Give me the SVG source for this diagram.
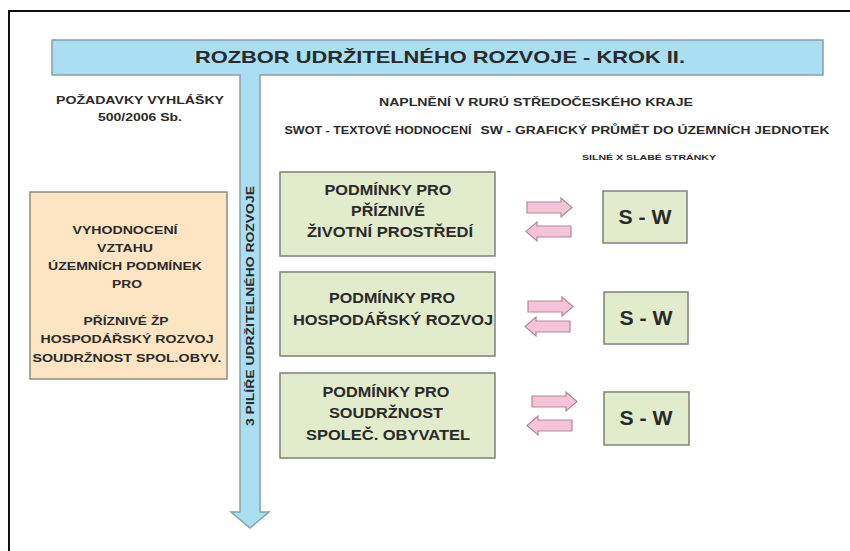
<svg xmlns="http://www.w3.org/2000/svg" width="850" height="551" viewBox="0 0 850 551">
<defs>
<style>
text{font-family:"Liberation Sans",Arial,sans-serif;font-weight:bold;fill:#2a2a2a;text-anchor:middle}
.hdr{font-size:11px}
.small{font-size:7px}
.orange{fill:#fde5c3;stroke:#8c8c84;stroke-width:1.5}
.green{fill:#e2ebcc;stroke:#7e8278;stroke-width:1.5}
.ot{font-size:11.5px}
.gt{font-size:15px}
.sw{font-size:20px}
.arrow{fill:#f6c4d8;stroke:#b08898;stroke-width:1.2}
</style>
<path id="ra" d="M0,4 H34 V0 L45,9.5 L34,19 V15 H0 Z"/>
<path id="la" d="M45,4 H11 V0 L0,9.5 L11,19 V15 H45 Z"/>
</defs>
<rect x="0" y="0" width="850" height="551" fill="#ffffff"/>
<path d="M9,551 V11 H850" fill="none" stroke="#111" stroke-width="2"/>

<g id="title-bar">
<path d="M52,40 H823 V75 H260 V512 H269 L250,528 L231,512 H240 V75 H52 Z" fill="#a9def3" stroke="#8a9ea6" stroke-width="1.5"/>
<text x="440" y="63" font-size="17" textLength="490" lengthAdjust="spacingAndGlyphs">ROZBOR UDRŽITELNÉHO ROZVOJE - KROK II.</text>
<text transform="translate(254,306) rotate(-90)" font-size="11" textLength="240" lengthAdjust="spacingAndGlyphs">3 PILÍŘE UDRŽITELNÉHO ROZVOJE</text>
</g>

<g id="headers">
<text class="hdr" x="140" y="104" textLength="168" lengthAdjust="spacingAndGlyphs">POŽADAVKY VYHLÁŠKY</text>
<text class="hdr" x="140" y="121" textLength="84" lengthAdjust="spacingAndGlyphs">500/2006 Sb.</text>
<text class="hdr" x="536" y="106" textLength="314" lengthAdjust="spacingAndGlyphs">NAPLNĚNÍ V RURÚ STŘEDOČESKÉHO KRAJE</text>
<text class="hdr" x="378" y="134" textLength="187" lengthAdjust="spacingAndGlyphs">SWOT - TEXTOVÉ HODNOCENÍ</text>
<text class="hdr" x="655" y="134" textLength="349" lengthAdjust="spacingAndGlyphs">SW - GRAFICKÝ PRŮMĚT DO ÚZEMNÍCH JEDNOTEK</text>
<text class="small" x="649" y="160" textLength="134" lengthAdjust="spacingAndGlyphs">SILNÉ X SLABÉ STRÁNKY</text>
</g>

<g id="node-vyhodnoceni">
<rect class="orange" x="30" y="192" width="197" height="187"/>
<text class="ot" x="125" y="234" textLength="105" lengthAdjust="spacingAndGlyphs">VYHODNOCENÍ</text>
<text class="ot" x="125" y="252" textLength="56" lengthAdjust="spacingAndGlyphs">VZTAHU</text>
<text class="ot" x="125" y="270" textLength="154" lengthAdjust="spacingAndGlyphs">ÚZEMNÍCH PODMÍNEK</text>
<text class="ot" x="127" y="288" textLength="30" lengthAdjust="spacingAndGlyphs">PRO</text>
<text class="ot" x="126" y="325" textLength="85" lengthAdjust="spacingAndGlyphs">PŘÍZNIVÉ ŽP</text>
<text class="ot" x="127" y="343" textLength="173" lengthAdjust="spacingAndGlyphs">HOSPODÁŘSKÝ ROZVOJ</text>
<text class="ot" x="127" y="362" textLength="189" lengthAdjust="spacingAndGlyphs">SOUDRŽNOST SPOL.OBYV.</text>
</g>

<g id="node-zp">
<rect class="green" x="280" y="172" width="215" height="84"/>
<text class="gt" x="388" y="195" textLength="127" lengthAdjust="spacingAndGlyphs">PODMÍNKY PRO</text>
<text class="gt" x="388" y="216" textLength="74" lengthAdjust="spacingAndGlyphs">PŘÍZNIVÉ</text>
<text class="gt" x="390" y="237" textLength="166" lengthAdjust="spacingAndGlyphs">ŽIVOTNÍ PROSTŘEDÍ</text>
</g>
<g id="node-hr">
<rect class="green" x="280" y="272" width="215" height="84"/>
<text class="gt" x="392" y="303" textLength="126" lengthAdjust="spacingAndGlyphs">PODMÍNKY PRO</text>
<text class="gt" x="393" y="325" textLength="200" lengthAdjust="spacingAndGlyphs">HOSPODÁŘSKÝ ROZVOJ</text>
</g>
<g id="node-so">
<rect class="green" x="280" y="373" width="215" height="85"/>
<text class="gt" x="386" y="397" textLength="127" lengthAdjust="spacingAndGlyphs">PODMÍNKY PRO</text>
<text class="gt" x="386" y="418" textLength="114" lengthAdjust="spacingAndGlyphs">SOUDRŽNOST</text>
<text class="gt" x="388" y="440" textLength="164" lengthAdjust="spacingAndGlyphs">SPOLEČ. OBYVATEL</text>
</g>

<g id="node-sw1">
<rect class="green" x="603" y="191" width="84" height="52"/>
<text class="sw" x="645" y="224" textLength="53" lengthAdjust="spacingAndGlyphs">S - W</text>
</g>
<g id="node-sw2">
<rect class="green" x="604" y="292" width="84" height="52"/>
<text class="sw" x="646" y="325" textLength="53" lengthAdjust="spacingAndGlyphs">S - W</text>
</g>
<g id="node-sw3">
<rect class="green" x="604" y="392" width="85" height="53"/>
<text class="sw" x="646" y="425" textLength="53" lengthAdjust="spacingAndGlyphs">S - W</text>
</g>

<g id="connectors">
<use href="#ra" class="arrow" x="527" y="198"/>
<use href="#la" class="arrow" x="526" y="222"/>
<use href="#ra" class="arrow" x="528" y="297"/>
<use href="#la" class="arrow" x="525" y="317"/>
<use href="#ra" class="arrow" x="532" y="392"/>
<use href="#la" class="arrow" x="527" y="416"/>
</g>
</svg>
